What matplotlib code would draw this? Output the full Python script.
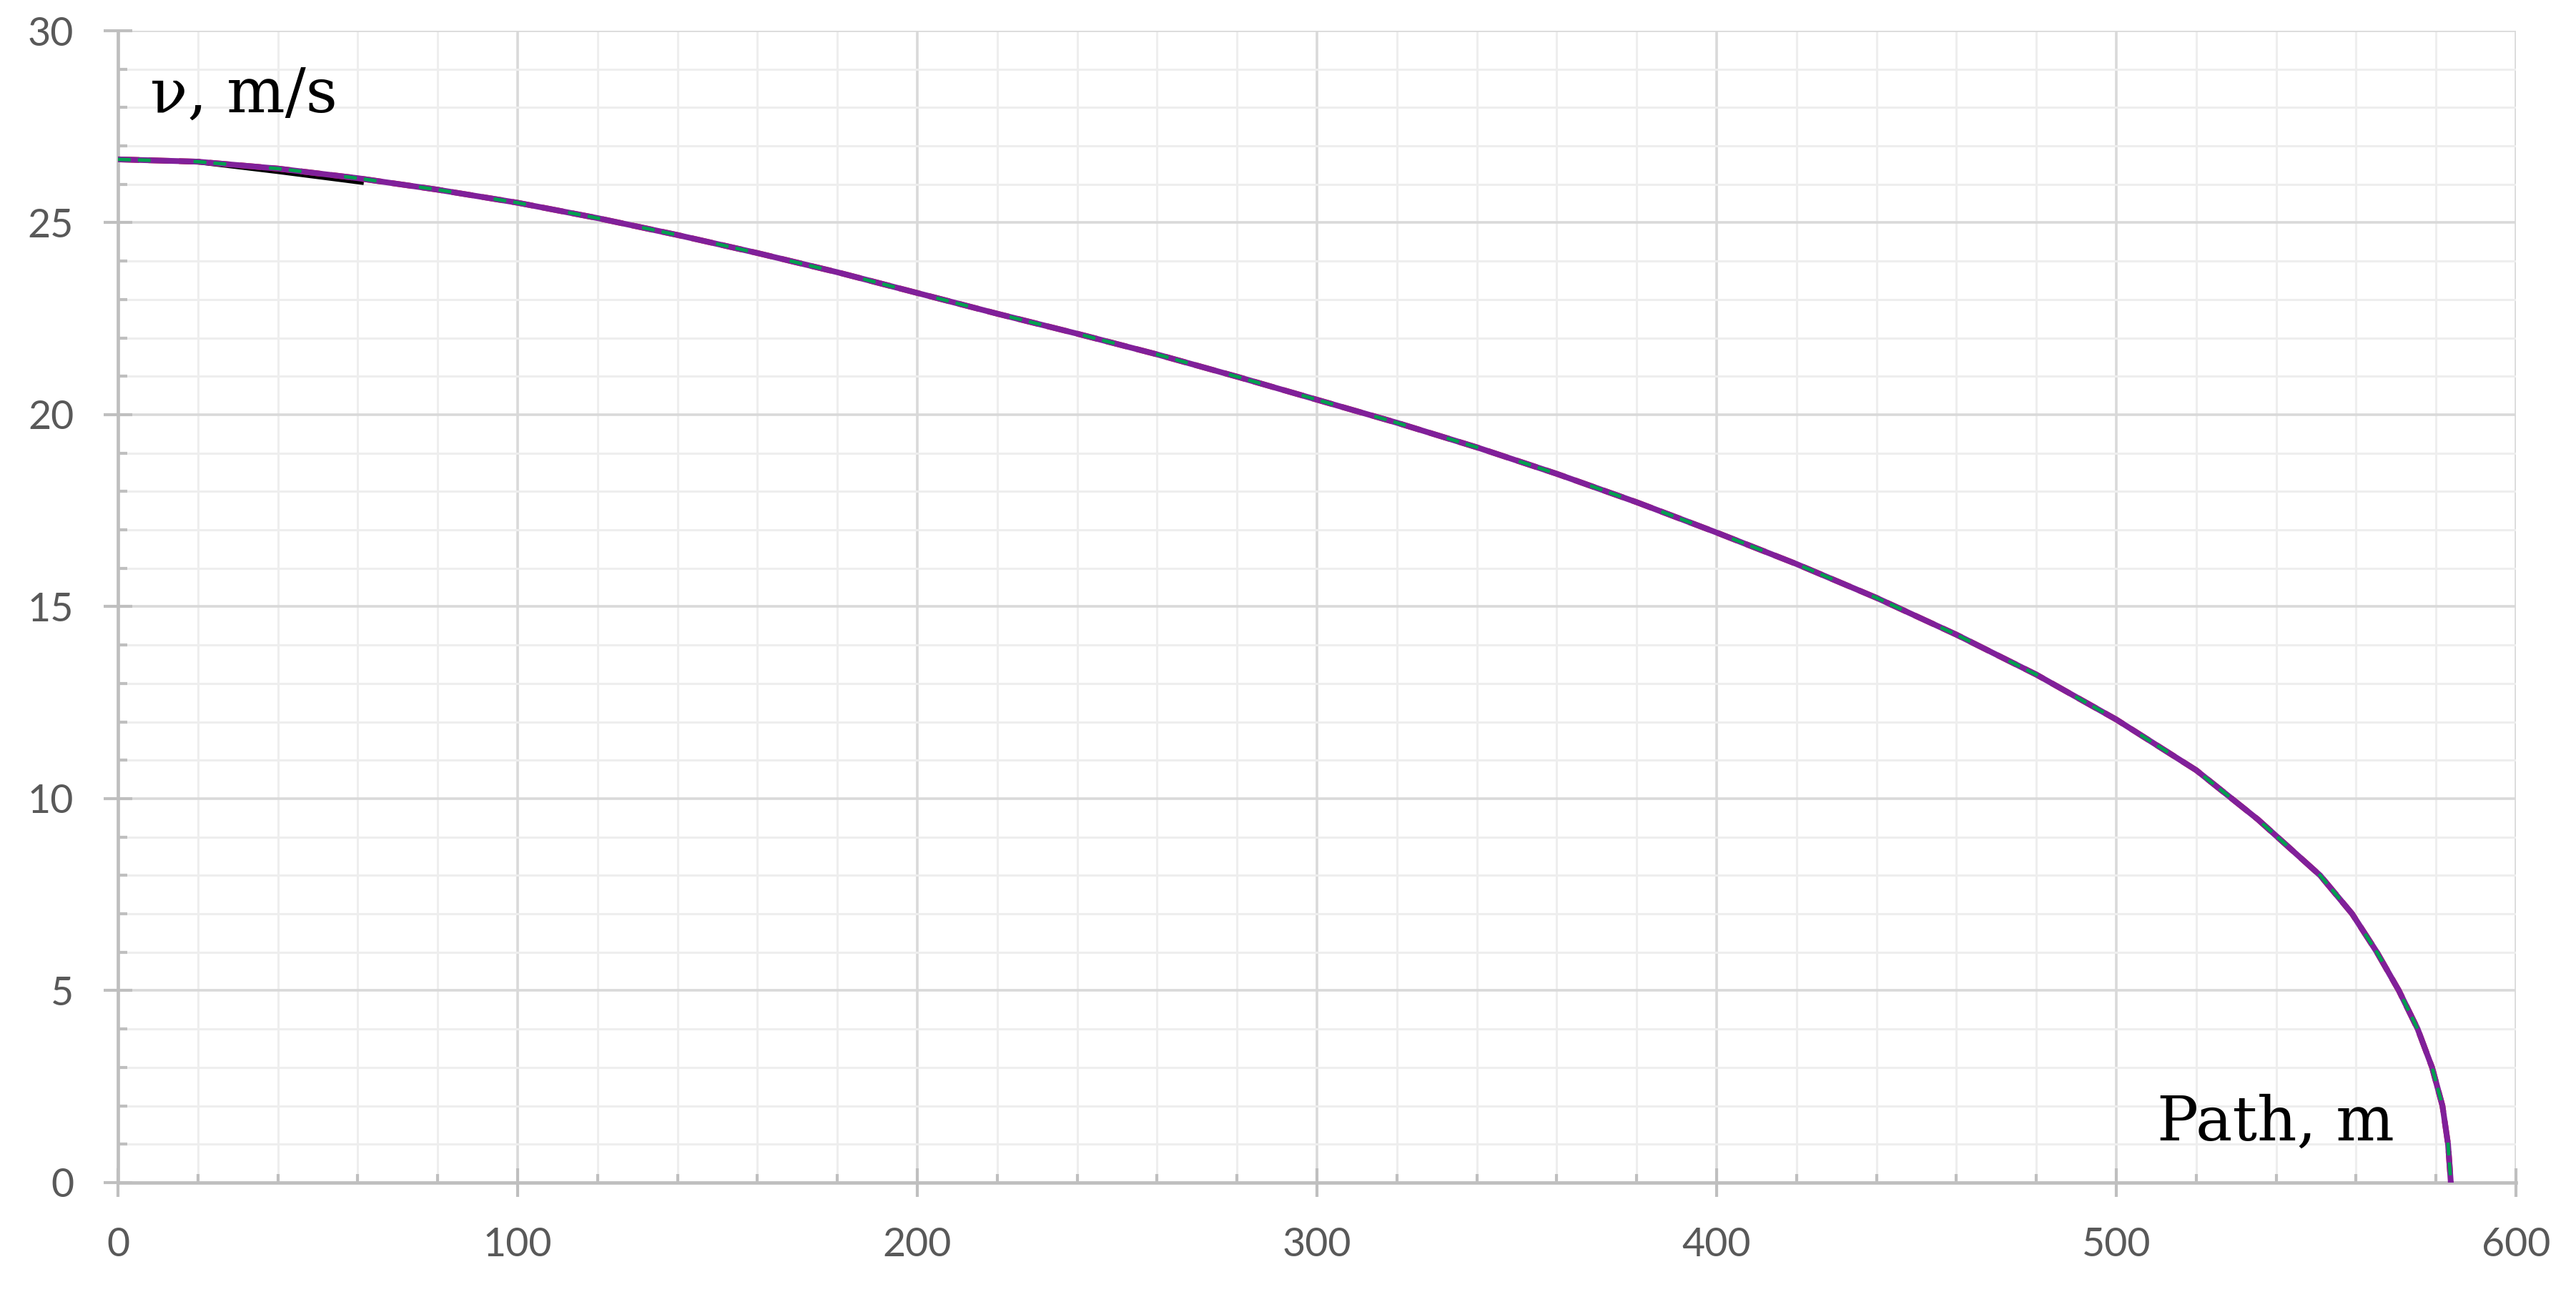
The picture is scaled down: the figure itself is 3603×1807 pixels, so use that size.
import matplotlib
matplotlib.use("Agg")
import matplotlib.pyplot as plt
from matplotlib.ticker import MultipleLocator

# path (m) and speed (m/s)
path = [0, 20, 40, 60, 80, 100, 120, 140, 160, 180, 200, 220, 240, 260, 280,
        300, 320, 340, 360, 380, 400, 420, 440, 460, 480, 500, 520, 535.4,
        551, 559, 565.2, 570.7, 575.4, 579.0, 581.6, 583.0, 583.7]
speed = [26.65, 26.59, 26.41, 26.16, 25.86, 25.52, 25.12, 24.68, 24.21, 23.71,
         23.17, 22.63, 22.11, 21.57, 20.99, 20.39, 19.79, 19.15, 18.46, 17.72,
         16.93, 16.11, 15.23, 14.27, 13.23, 12.06, 10.74, 9.46,
         8.0, 7.0, 6.0, 5.0, 4.0, 3.0, 2.0, 1.0, 0.0]

# short black series visible at the start
path_black = [0, 20, 40, 61]
speed_black = [26.65, 26.57, 26.32, 26.04]

x_ticks = [0, 100, 200, 300, 400, 500, 600]
y_ticks = [0, 5, 10, 15, 20, 25, 30]

fig = plt.figure(figsize=(36.03, 18.07), dpi=100)
ax = fig.add_axes([0.0458, 0.0847, 0.9309, 0.8915])

ax.plot(path_black, speed_black, color='black', lw=4, zorder=3)
ax.plot(path, speed, color='#e0202a', lw=5.8, ls='--', zorder=3)
ax.plot(path, speed, color='#80209a', lw=5.8, zorder=4, solid_joinstyle='round')
ax.plot(path, speed, color='#00a04e', lw=3.4, dashes=(3.8, 2.1, 3.8, 12.7), zorder=5)

ax.set_xlim(0, 600)
ax.set_ylim(0, 30)
ax.set_xticks(x_ticks)
ax.set_yticks(y_ticks)
ax.xaxis.set_minor_locator(MultipleLocator(20))
ax.yaxis.set_minor_locator(MultipleLocator(1))

ax.grid(which='major', color='#d9d9d9', lw=2.6)
ax.grid(which='minor', color='#eeeeee', lw=2.2)
ax.set_axisbelow(True)

for s in ['top', 'right']:
    ax.spines[s].set_visible(False)
for s in ['left', 'bottom']:
    ax.spines[s].set_color('#bfbfbf')
    ax.spines[s].set_linewidth(3.4)

ax.tick_params(which='major', direction='inout', length=29, width=3,
               color='#bfbfbf', pad=30, labelsize=40, labelcolor='#595959')
ax.tick_params(which='minor', direction='in', length=9, width=3, color='#bfbfbf')
for lab in ax.get_xticklabels() + ax.get_yticklabels():
    lab.set_family('Lato')

ax.text(8.0, 27.88, 'ν, m/s', family='DejaVu Serif', fontsize=62, va='baseline')
ax.text(510.2, 1.1, 'Path, m', family='DejaVu Serif', fontsize=62, va='baseline')

fig.savefig('out.png', dpi=100)
